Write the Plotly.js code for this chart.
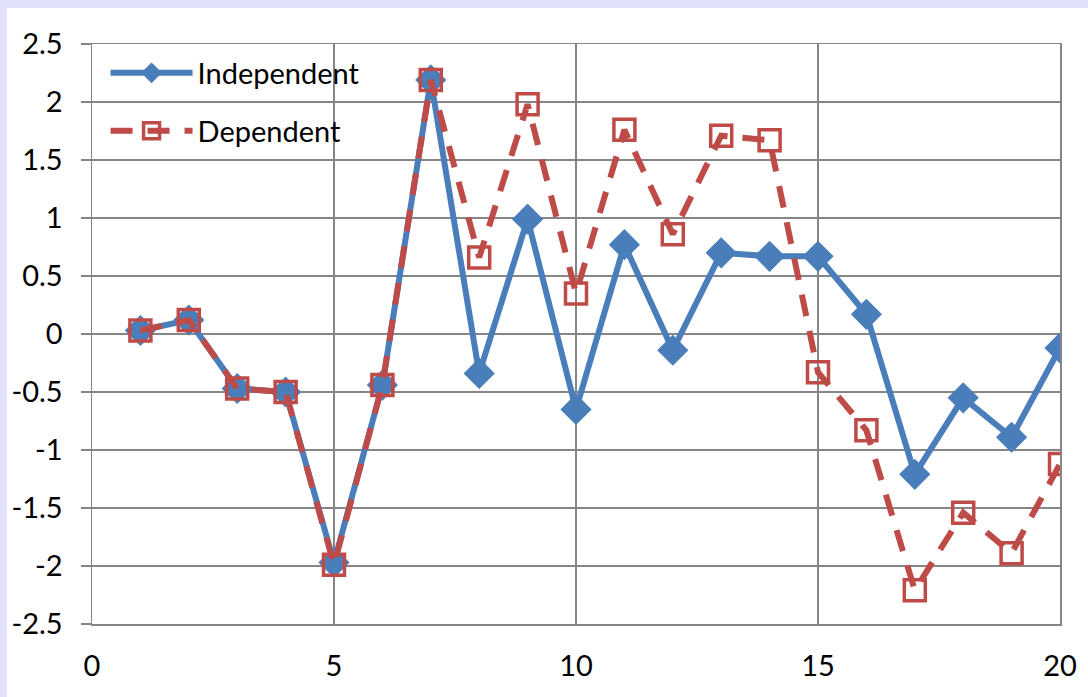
<!DOCTYPE html>
<html><head><meta charset="utf-8">
<script src="https://cdn.plot.ly/plotly-3.0.1.min.js"></script>
<style>
html,body{margin:0;padding:0;background:#E1E1F9;}
#wrap{position:absolute;left:7px;top:8px;width:1081px;height:689px;background:#fff;}
#chart{width:1081px;height:689px;}
</style></head>
<body><div id="wrap"><div id="chart"></div></div>
<script>
const xs = [1,2,3,4,5,6,7,8,9,10,11,12,13,14,15,16,17,18,19,20];
const independent = [0.03,0.12,-0.47,-0.5,-1.97,-0.44,2.19,-0.34,0.99,-0.65,0.77,-0.14,0.70,0.67,0.67,0.17,-1.21,-0.55,-0.89,-0.12];
const dependent = [0.03,0.12,-0.47,-0.5,-1.99,-0.44,2.19,0.66,1.98,0.35,1.76,0.86,1.71,1.67,-0.33,-0.83,-2.21,-1.54,-1.89,-1.12];
const seriesNames = ['Independent','Dependent'];
const xTicks = [0,5,10,15,20];
const yTicks = [-2.5,-2,-1.5,-1,-0.5,0,0.5,1,1.5,2,2.5];

const traces = [
  {x: xs, y: independent, name: seriesNames[0], type:'scatter', mode:'lines+markers',
   legend:'legend',
   line:{color:'#4A7EBB', width:6},
   marker:{symbol:'diamond', size:24, color:'#4A7EBB'}},
  {x: xs, y: dependent, name: seriesNames[1], type:'scatter', mode:'lines+markers',
   legend:'legend2',
   line:{color:'#BE4B48', width:6, dash:'22px,15px'},
   marker:{symbol:'square-open', size:21, color:'#BE4B48', line:{width:3.5, color:'#BE4B48'}}}
];
const grid = '#868686';
const legendBase = {xanchor:'left', yanchor:'middle', bgcolor:'rgba(0,0,0,0)',
                    font:{size:29}, itemwidth:82};
const layout = {
  width:1081, height:689,
  margin:{l:85, r:28, t:36, b:73},
  paper_bgcolor:'#ffffff', plot_bgcolor:'#ffffff',
  font:{family:'Lato, "Open Sans", sans-serif', size:29, color:'#000'},
  showlegend:true,
  legend:Object.assign({x:0.014, y:0.95}, legendBase),
  legend2:Object.assign({x:0.014, y:0.85}, legendBase),
  xaxis:{range:[0,20], tickvals:xTicks, ticktext:xTicks.map(String),
         showgrid:true, gridcolor:grid, gridwidth:1.5, zeroline:false,
         showline:true, linecolor:grid, linewidth:1.5, mirror:true,
         ticks:'', ticklabelstandoff:16},
  yaxis:{range:[-2.5,2.5], tickvals:yTicks, ticktext:yTicks.map(String),
         showgrid:true, gridcolor:grid, gridwidth:1.5, zeroline:false,
         showline:true, linecolor:grid, linewidth:1.5, mirror:true,
         ticks:'outside', ticklen:10, tickcolor:grid, tickwidth:1.5,
         ticklabelstandoff:12}
};
Plotly.newPlot('chart', traces, layout, {displayModeBar:false, staticPlot:true});
</script></body></html>
